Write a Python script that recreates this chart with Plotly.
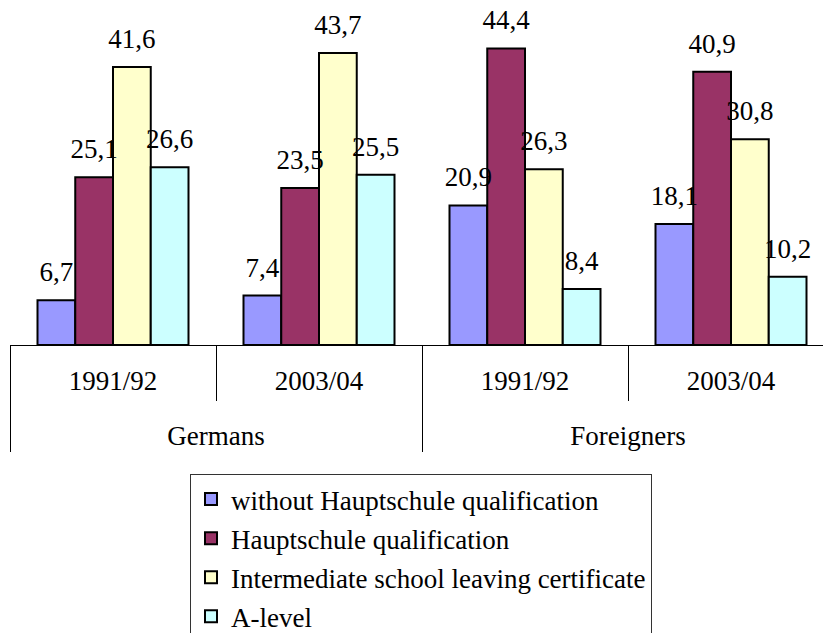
import plotly.graph_objects as go

groups = ["Germans", "Germans", "Foreigners", "Foreigners"]
years = ["1991/92", "2003/04", "1991/92", "2003/04"]

series_names = [
    "without Hauptschule qualification",
    "Hauptschule qualification",
    "Intermediate school leaving certificate",
    "A-level",
]
without_hs = [6.7, 7.4, 20.9, 18.1]
hauptschule = [25.1, 23.5, 44.4, 40.9]
intermediate = [41.6, 43.7, 26.3, 30.8]
a_level = [26.6, 25.5, 8.4, 10.2]

series_values = [without_hs, hauptschule, intermediate, a_level]
colors = ["#9999FF", "#993366", "#FFFFCC", "#CCFFFF"]

FONT = "Liberation Serif"
FS = 27
GAP = 0.267

# inner category labels get an empty second line so the outer level sits lower
inner = [y + "<br>\u00a0" for y in years]
xcats = [groups, inner]

fig = go.Figure()
for name, vals, col in zip(series_names, series_values, colors):
    fig.add_trace(go.Bar(
        x=xcats,
        y=vals,
        name=name,
        legendgroup=name,
        marker=dict(color=col, line=dict(color="black", width=2)),
        hoverinfo="skip",
    ))
# value labels (invisible markers push the text a little above the bar tops)
for name, vals in zip(series_names, series_values):
    fig.add_trace(go.Scatter(
        x=xcats,
        y=vals,
        mode="markers+text",
        text=[f"{v:.1f}".replace(".", ",") for v in vals],
        textposition="top center",
        textfont=dict(family=FONT, size=FS, color="black"),
        marker=dict(size=18, opacity=0),
        showlegend=False,
        cliponaxis=False,
        hoverinfo="skip",
    ))

n_cat = len(years)
fig.update_layout(
    width=823, height=633,
    margin=dict(l=10, r=0, t=11, b=288, autoexpand=False),
    paper_bgcolor="white", plot_bgcolor="white",
    barmode="group",
    bargap=GAP,
    bargroupgap=0,
    scattermode="group",
    scattergap=GAP,
    font=dict(family=FONT, size=FS, color="black"),
    showlegend=True,
    legend=dict(
        xref="container", yref="container",
        x=190 / 823, y=1 - 474 / 633,
        xanchor="left", yanchor="top",
        bordercolor="#333", borderwidth=1,
        font=dict(family=FONT, size=FS, color="black"),
        traceorder="grouped",
        tracegroupgap=1,
        bgcolor="white",
        itemwidth=30,
    ),
    xaxis=dict(
        type="multicategory",
        range=[-0.5, n_cat - 0.5 - 11 / 206],
        automargin=False,
        tickangle=0,
        showline=True, linecolor="black", linewidth=1,
        ticks="outside", tickson="boundaries", ticklen=55, tickcolor="black", tickwidth=1,
        ticklabelstandoff=12,
        showdividers=True, dividercolor="black", dividerwidth=1,
        showgrid=False, zeroline=False,
        tickfont=dict(family=FONT, size=FS, color="black"),
    ),
    yaxis=dict(visible=False, range=[0, 50], showgrid=False, zeroline=False),
)

fig.write_html(
    "out.html",
    config={"displayModeBar": False},
    post_script="document.body.style.margin='0';document.body.style.overflow='hidden';",
)
